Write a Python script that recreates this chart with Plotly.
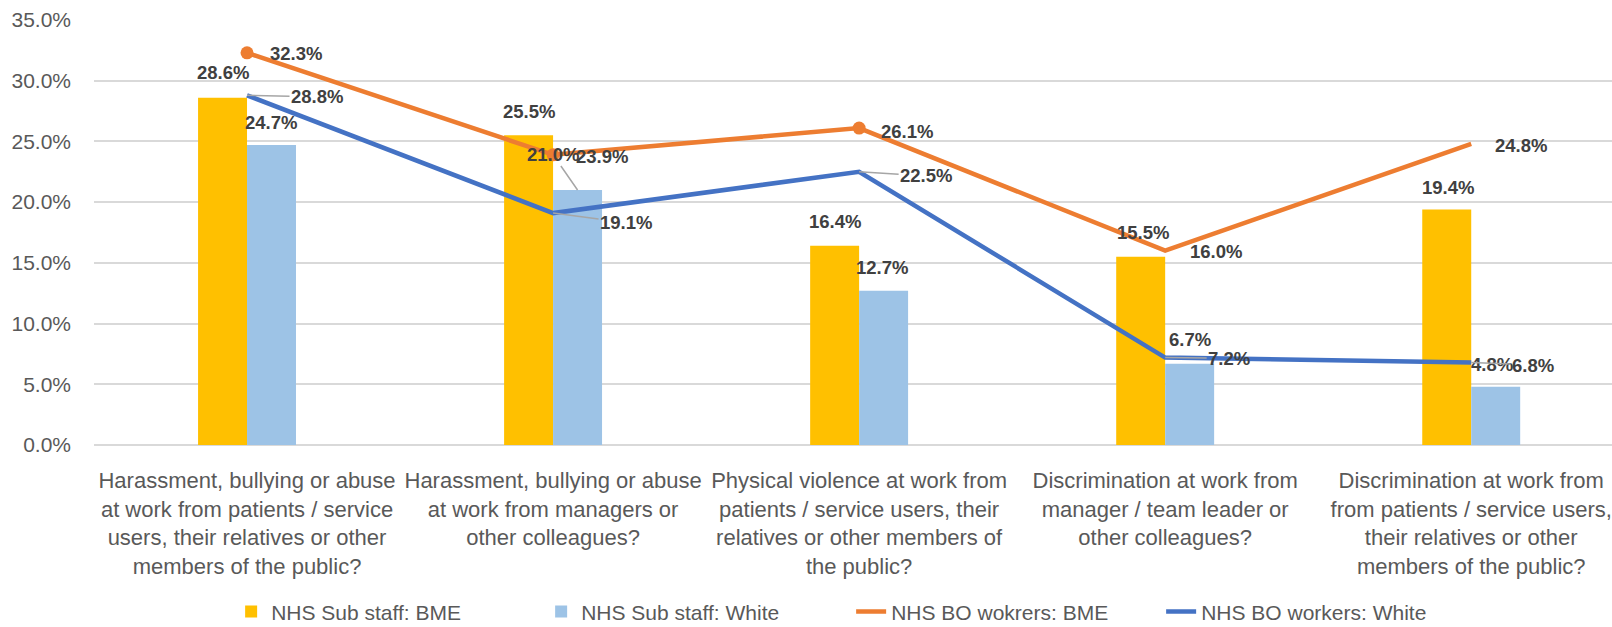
import plotly.graph_objects as go

# ---------------- data ----------------
categories = [
    "Harassment, bullying or abuse<br>at work from patients / service<br>users, their relatives or other<br>members of the public?",
    "Harassment, bullying or abuse<br>at work from managers or<br>other colleagues?",
    "Physical violence at work from<br>patients / service users, their<br>relatives or other members of<br>the public?",
    "Discrimination at work from<br>manager / team leader or<br>other colleagues?",
    "Discrimination at work from<br>from patients / service users,<br>their relatives or other<br>members of the public?",
]
sub_bme = [28.6, 25.5, 16.4, 15.5, 19.4]
sub_white = [24.7, 21.0, 12.7, 6.7, 4.8]
bo_bme = [32.3, 23.9, 26.1, 16.0, 24.8]
bo_white = [28.8, 19.1, 22.5, 7.2, 6.8]
series_names = ["NHS Sub staff: BME", "NHS Sub staff: White",
                "NHS BO wokrers: BME", "NHS BO workers: White"]
y_ticks = [0, 5, 10, 15, 20, 25, 30, 35]

# ---------------- style ----------------
C_YEL, C_LBLUE, C_ORANGE, C_BLUE = "#FFC000", "#9DC3E6", "#ED7D31", "#4472C4"
FONT = "Liberation Sans, Arial, sans-serif"
BAR_W = 0.16
n_marked = 3  # orange markers shown on the first points

# label offsets in px (dx right, dy up) and whether a leader line is drawn
off_sub_bme = [(0, 25), (0, 24), (0, 24), (2, 24), (1, 22)]
off_sub_white = [(-1, 23), (-25, 36), (-2, 23.5), (0, 24), (-4, 22)]
lead_sub_white = [False, True, False, False, False]
off_bo_bme = [(49, -0.5), (49, -2), (48, -3), (51, -1), (50, -2)]
off_bo_white = [(70, -1.4), (73, -9.6), (67, -4), (64, -0.7), (62, -2.6)]
lead_bo_white = [True, True, True, True, True]

xs = list(range(len(categories)))

fig = go.Figure()
fig.add_trace(go.Bar(x=xs, y=sub_bme, name=series_names[0], marker_color=C_YEL,
                     offset=-BAR_W, width=BAR_W, marker_line_width=0))
fig.add_trace(go.Bar(x=xs, y=sub_white, name=series_names[1], marker_color=C_LBLUE,
                     offset=0, width=BAR_W, marker_line_width=0))
fig.add_trace(go.Scatter(x=xs, y=bo_bme, name=series_names[2], mode="lines",
                         line=dict(color=C_ORANGE, width=4.5)))
fig.add_trace(go.Scatter(x=xs, y=bo_white, name=series_names[3], mode="lines",
                         line=dict(color=C_BLUE, width=4.5)))
fig.add_trace(go.Scatter(x=xs[:n_marked], y=bo_bme[:n_marked], mode="markers",
                         marker=dict(color=C_ORANGE, size=13), showlegend=False,
                         hoverinfo="skip"))

annotations = []


def add_labels(xpos, vals, offs, leads=None):
    for i, (xv, v) in enumerate(zip(xpos, vals)):
        dx, dy = offs[i]
        lead = leads[i] if leads else False
        a = dict(x=xv, y=v, xref="x", yref="y", text=f"{v:.1f}%",
                 font=dict(family=FONT, size=18.5, color="#404040", weight="bold"))
        if lead:
            a.update(showarrow=True, arrowhead=0, arrowwidth=1.5, arrowcolor="#A6A6A6",
                     ax=dx, ay=-dy, standoff=0)
        else:
            a.update(showarrow=False, xshift=dx, yshift=dy, xanchor="center", yanchor="middle")
        annotations.append(a)


add_labels([x - BAR_W / 2 for x in xs], sub_bme, off_sub_bme)
add_labels([x + BAR_W / 2 for x in xs], sub_white, off_sub_white, lead_sub_white)
add_labels(xs, bo_bme, off_bo_bme)
add_labels(xs, bo_white, off_bo_white, lead_bo_white)

fig.update_layout(
    width=1612, height=627,
    margin=dict(l=94, r=0, t=20, b=182),
    paper_bgcolor="white", plot_bgcolor="white",
    barmode="overlay",
    font=dict(family=FONT, color="#595959"),
    annotations=annotations,
    showlegend=True,
    legend=dict(orientation="h", xref="container", yref="container",
                x=0.528, xanchor="center", y=0.024, yanchor="middle",
                font=dict(family=FONT, size=21, color="#595959"),
                entrywidth=265, traceorder="normal"),
)
fig.update_yaxes(range=[0, 35], tickvals=y_ticks, ticktext=[f"{t:.1f}%" for t in y_ticks],
                 showgrid=True, gridcolor="#D9D9D9", gridwidth=1.5,
                 zeroline=True, zerolinecolor="#D9D9D9", zerolinewidth=1.5,
                 showline=False, ticks="", ticklabelstandoff=22,
                 tickfont=dict(family=FONT, size=21, color="#595959"))
fig.update_xaxes(range=[-0.5, 4.46], tickvals=xs, ticktext=categories,
                 showgrid=False, zeroline=False, showline=False, ticks="",
                 ticklabelstandoff=20, tickangle=0,
                 tickfont=dict(family=FONT, size=22, color="#595959"))

fig.write_html("out.html", config={"displayModeBar": False},
               post_script="document.body.style.margin='0';")
